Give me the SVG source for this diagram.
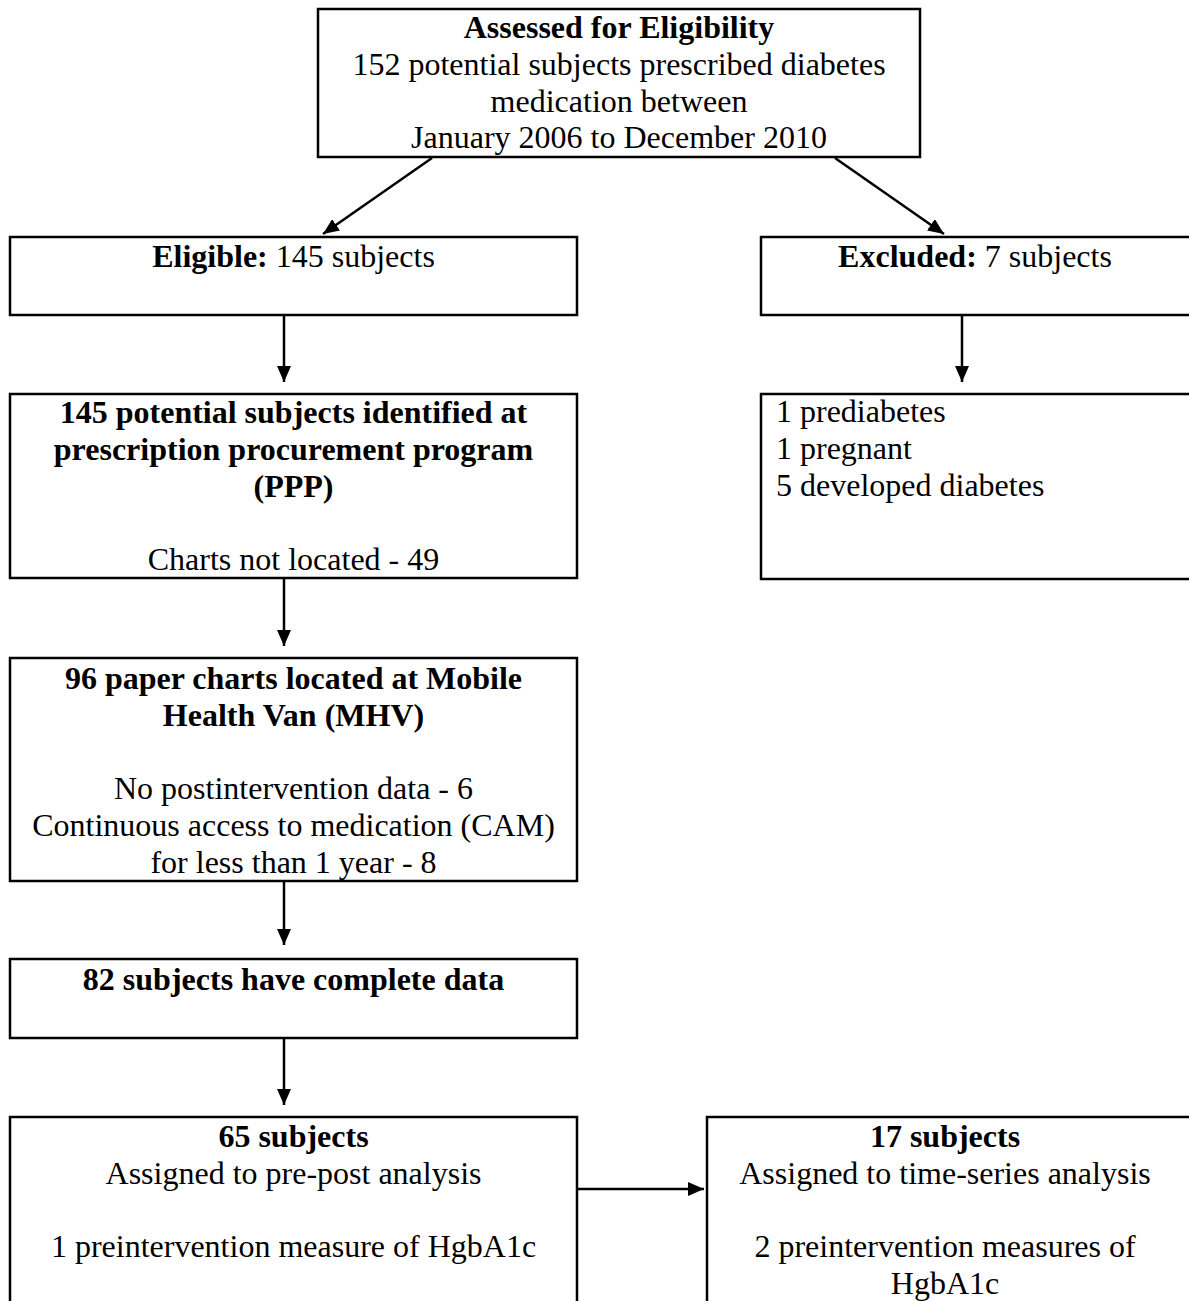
<svg xmlns="http://www.w3.org/2000/svg" width="1189" height="1301" viewBox="0 0 1189 1301">
<style>
.box{fill:#fff;stroke:#000;stroke-width:2.5}
.t{font-family:"Liberation Serif","Times New Roman",serif;font-size:32px;fill:#000}
.c{text-anchor:middle}
.b{font-weight:bold}
.conn{stroke:#000;stroke-width:2.5;fill:none;marker-end:url(#ah)}
</style>
<defs>
<marker id="ah" markerUnits="userSpaceOnUse" markerWidth="17" markerHeight="14" refX="16" refY="7" orient="auto">
<path d="M0,0 L16,7 L0,14 z" fill="#000"/>
</marker>
</defs>
<rect width="1189" height="1301" fill="#fff"/>
<g id="connectors">
<line class="conn" x1="432" y1="158" x2="323" y2="234"/>
<line class="conn" x1="835" y1="158" x2="944" y2="234"/>
<line class="conn" x1="284" y1="315" x2="284" y2="382"/>
<line class="conn" x1="962" y1="315" x2="962" y2="382"/>
<line class="conn" x1="284" y1="578" x2="284" y2="646"/>
<line class="conn" x1="284" y1="881" x2="284" y2="945"/>
<line class="conn" x1="284" y1="1038" x2="284" y2="1105"/>
<line class="conn" x1="578" y1="1189" x2="704" y2="1189"/>
</g>
<g id="assessed">
<rect class="box" x="318" y="9" width="602" height="148"/>
<text class="t c b" x="619" y="38">Assessed for Eligibility</text>
<text class="t c" x="619" y="75">152 potential subjects prescribed diabetes</text>
<text class="t c" x="619" y="112">medication between</text>
<text class="t c" x="619" y="148">January 2006 to December 2010</text>
</g>
<g id="eligible">
<rect class="box" x="10" y="237" width="567" height="78"/>
<text class="t c" x="293.5" y="267"><tspan class="b">Eligible:</tspan> 145 subjects</text>
</g>
<g id="excluded">
<rect class="box" x="761" y="237" width="440" height="78"/>
<text class="t c" x="975" y="267"><tspan class="b">Excluded:</tspan> 7 subjects</text>
</g>
<g id="ppp">
<rect class="box" x="10" y="394" width="567" height="184"/>
<text class="t c b" x="293.5" y="423">145 potential subjects identified at</text>
<text class="t c b" x="293.5" y="460">prescription procurement program</text>
<text class="t c b" x="293.5" y="497">(PPP)</text>
<text class="t c" x="293.5" y="570">Charts not located - 49</text>
</g>
<g id="reasons">
<rect class="box" x="761" y="394" width="440" height="185"/>
<text class="t" x="776" y="422">1 prediabetes</text>
<text class="t" x="776" y="459">1 pregnant</text>
<text class="t" x="776" y="496">5 developed diabetes</text>
</g>
<g id="mhv">
<rect class="box" x="10" y="658" width="567" height="223"/>
<text class="t c b" x="293.5" y="689">96 paper charts located at Mobile</text>
<text class="t c b" x="293.5" y="726">Health Van (MHV)</text>
<text class="t c" x="293.5" y="799">No postintervention data - 6</text>
<text class="t c" x="293.5" y="836">Continuous access to medication (CAM)</text>
<text class="t c" x="293.5" y="873">for less than 1 year - 8</text>
</g>
<g id="complete">
<rect class="box" x="10" y="959" width="567" height="79"/>
<text class="t c b" x="293.5" y="990">82 subjects have complete data</text>
</g>
<g id="prepost">
<rect class="box" x="10" y="1117" width="567" height="200"/>
<text class="t c b" x="293.5" y="1147">65 subjects</text>
<text class="t c" x="293.5" y="1184">Assigned to pre-post analysis</text>
<text class="t c" x="293.5" y="1257">1 preintervention measure of HgbA1c</text>
</g>
<g id="timeseries">
<rect class="box" x="707" y="1117" width="494" height="200"/>
<text class="t c b" x="945" y="1147">17 subjects</text>
<text class="t c" x="945" y="1184">Assigned to time-series analysis</text>
<text class="t c" x="945" y="1257">2 preintervention measures of</text>
<text class="t c" x="945" y="1294">HgbA1c</text>
</g>
</svg>
